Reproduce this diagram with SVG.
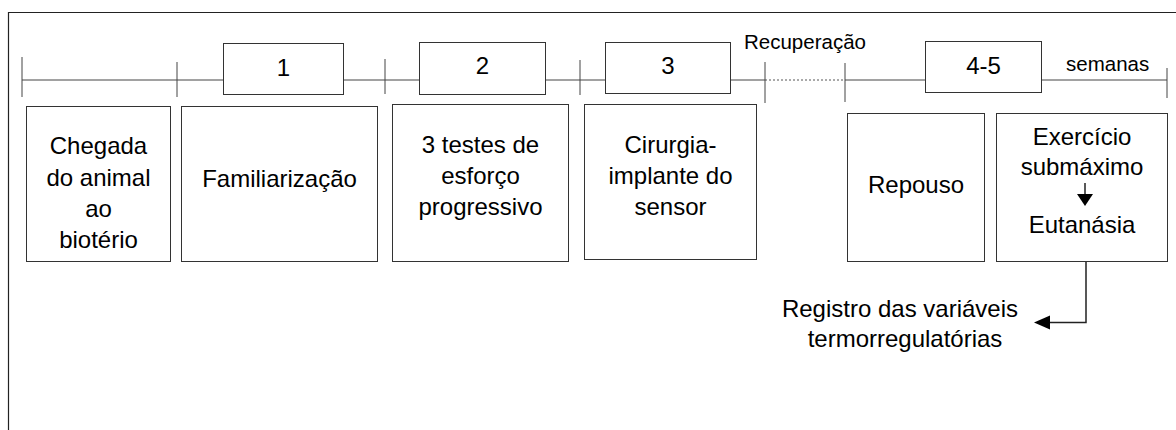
<svg xmlns="http://www.w3.org/2000/svg" width="1176" height="430" viewBox="0 0 1176 430">
<style>
.frame{fill:none;stroke:#222;stroke-width:1.2}
.box{fill:#fff;stroke:#333;stroke-width:1}
.ln{fill:none;stroke:#444;stroke-width:1}
.dot{fill:none;stroke:#555;stroke-width:1;stroke-dasharray:2 2}
.t{font-family:"Liberation Sans",Arial,sans-serif;font-size:24px;fill:#000;text-anchor:middle}
.s{font-family:"Liberation Sans",Arial,sans-serif;font-size:20.5px;fill:#000}
.conn{fill:none;stroke:#222;stroke-width:1.5}
.head{fill:#000;stroke:none}
</style>
<rect width="1176" height="430" fill="#fff"/>
<path class="frame" d="M8.5,430 V12.5 H1176"/>
<g id="timeline">
<path class="ln" d="M22,80 H223 M344,80 H419 M546,80 H605 M731,80 H765 M845,80 H925 M1042,80 H1167"/>
<path class="dot" d="M765,80 H845"/>
<path class="ln" d="M22,57 V97 M177,62 V97 M385,59 V94 M580,60 V95 M765,62 V103 M845,63 V102 M1167,68 V98"/>
<text class="s" x="744" y="49">Recuperação</text>
<text class="s" x="1066" y="71">semanas</text>
</g>
<g id="w1"><rect class="box" x="223.5" y="43.5" width="120" height="51"/><text class="t" x="283.5" y="76">1</text></g>
<g id="w2"><rect class="box" x="419.5" y="42.5" width="126" height="52"/><text class="t" x="482.5" y="74">2</text></g>
<g id="w3"><rect class="box" x="605.5" y="42.5" width="125" height="51"/><text class="t" x="668" y="74">3</text></g>
<g id="w45"><rect class="box" x="925.5" y="41.5" width="116" height="51"/><text class="t" x="983.5" y="74">4-5</text></g>
<g id="chegada"><rect class="box" x="26.5" y="106.5" width="144" height="155"/>
<text class="t" x="98.5" y="154">Chegada</text><text class="t" x="98.5" y="186">do animal</text><text class="t" x="98.5" y="217">ao</text><text class="t" x="98.5" y="248">biotério</text></g>
<g id="familiarizacao"><rect class="box" x="181.5" y="106.5" width="196" height="155"/>
<text class="t" x="279.5" y="187">Familiarização</text></g>
<g id="testes"><rect class="box" x="392.5" y="104.5" width="176" height="157"/>
<text class="t" x="480.5" y="153">3 testes de</text><text class="t" x="480.5" y="184">esforço</text><text class="t" x="480.5" y="215">progressivo</text></g>
<g id="cirurgia"><rect class="box" x="584.5" y="104.5" width="172" height="155"/>
<text class="t" x="670.5" y="153">Cirurgia-</text><text class="t" x="670.5" y="184">implante do</text><text class="t" x="670.5" y="215">sensor</text></g>
<g id="repouso"><rect class="box" x="847.5" y="113.5" width="137" height="148"/>
<text class="t" x="916" y="193">Repouso</text></g>
<g id="exercicio"><rect class="box" x="996.5" y="113.5" width="171" height="148"/>
<text class="t" x="1082" y="145">Exercício</text><text class="t" x="1082" y="175">submáximo</text><text class="t" x="1082" y="233">Eutanásia</text></g>
<g id="registro">
<text class="t" x="900" y="317">Registro das variáveis</text><text class="t" x="905" y="347">termorregulatórias</text></g>
<g id="connectors">
<path class="conn" d="M1085,183 V196"/>
<path class="head" d="M1077,194 L1093,194 L1085,206 Z"/>
<path class="conn" d="M1086,262 V322.5 H1048"/>
<path class="head" d="M1050,315.5 L1050,329.5 L1034,322.5 Z"/>
</g>
</svg>
